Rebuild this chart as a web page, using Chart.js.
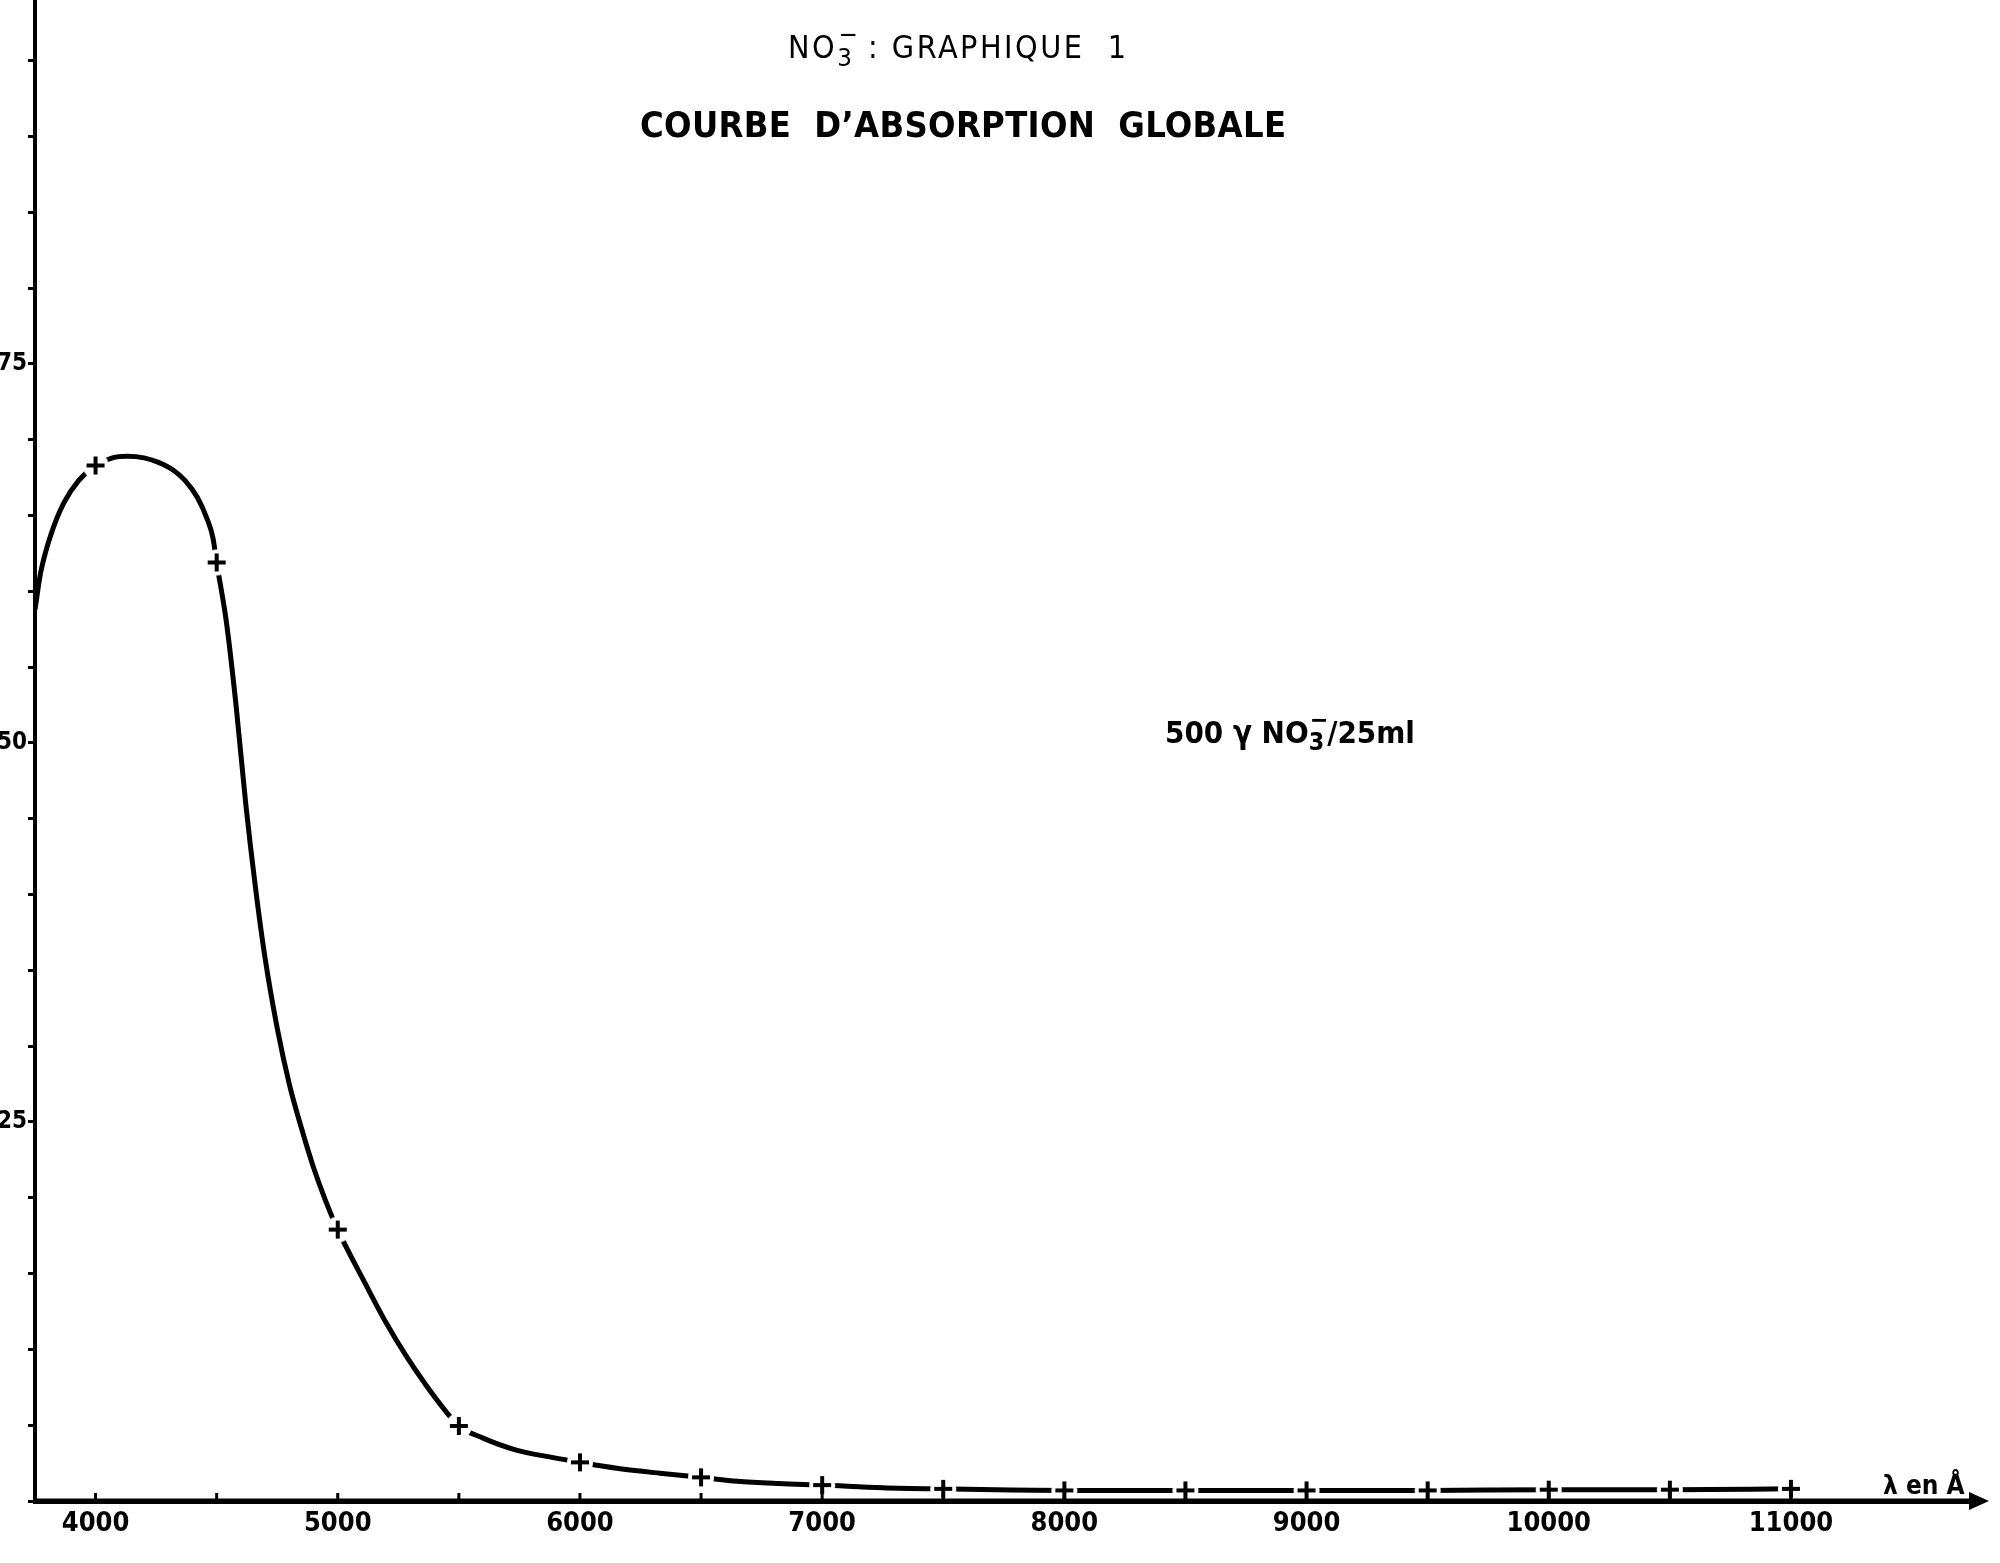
<!DOCTYPE html>
<html>
<head>
<meta charset="utf-8">
<script src="https://cdn.jsdelivr.net/npm/chart.js@4.4.1/dist/chart.umd.min.js"></script>
<style>
  body { margin: 0; background: #fff; }
  #wrap { position: relative; width: 2000px; height: 1563px; }
  .txt { position: absolute; color: #000; white-space: pre; line-height: 1;
         font-family: "DejaVu Sans Condensed", "DejaVu Sans", sans-serif; }
  .ion { position: relative; display: inline-block; width: 0.6em; }
  .ion .s3 { position: relative; top: 0.3em; font-size: 0.8em; }
  .ion .mn { position: absolute; left: 0.05em; top: -0.35em; font-size: 0.8em; }
</style>
</head>
<body>
<div id="wrap">
  <canvas id="myChart"></canvas>
  <div class="txt" style="left:788px;top:31px;font-size:32px;letter-spacing:2.5px;">NO<span class="ion"><span class="s3">3</span><span class="mn">−</span></span> : GRAPHIQUE  1</div>
  <div class="txt" style="left:640px;top:107px;font-size:36px;font-weight:bold;letter-spacing:0.3px;">COURBE  D’ABSORPTION  GLOBALE</div>
  <div class="txt" style="left:1165px;top:717px;font-size:31px;font-weight:bold;">500 γ NO<span class="ion"><span class="s3">3</span><span class="mn">−</span></span>/25ml</div>
  <div class="txt" style="left:1883px;top:1472px;font-size:26px;font-weight:bold;">λ en Å</div>
</div>
<script>
// values (absorption vs wavelength in Angstrom)
var curveLambda = [3750, 3773, 3815, 3868, 3930, 4000, 4070, 4130, 4200, 4260, 4320, 4370, 4420, 4460, 4485, 4500,
                   4540, 4580, 4620, 4660, 4700, 4750, 4800, 4850, 4900, 4950, 5000,
                   5115, 5198, 5281, 5364, 5447, 5500, 5600, 5737, 5890, 6000, 6152, 6330, 6500, 6650, 6820, 7000, 7250, 7500,
                   8000, 8500, 9000, 9500, 10000, 10500, 11000];
var curveAbs = [58.8, 61.2, 63.7, 65.8, 67.3, 68.3, 68.8, 68.9, 68.8, 68.5, 68.0, 67.3, 66.2, 64.8, 63.5, 61.9,
                58.0, 52.5, 46.0, 40.5, 35.8, 31.2, 27.5, 24.6, 22.0, 19.8, 17.9,
                14.3, 11.8, 9.6, 7.65, 5.9, 4.95, 4.15, 3.36, 2.86, 2.55, 2.16, 1.83, 1.56, 1.3, 1.15, 1.05, 0.88, 0.8,
                0.7, 0.7, 0.7, 0.7, 0.75, 0.75, 0.8];

var pointLambda = [4000, 4500, 5000, 5500, 6000, 6500, 7000, 7500, 8000, 8500, 9000, 9500, 10000, 10500, 11000];
var pointAbs = [68.3, 61.9, 17.9, 4.95, 2.55, 1.56, 1.05, 0.8, 0.7, 0.7, 0.7, 0.7, 0.75, 0.75, 0.8];

var xTickValues = [4000, 4500, 5000, 5500, 6000, 6500, 7000, 7500, 8000, 8500, 9000, 9500, 10000, 10500, 11000];
var xTickLabels = [4000, 5000, 6000, 7000, 8000, 9000, 10000, 11000];
var yTickValues = [0, 5, 10, 15, 20, 25, 30, 35, 40, 45, 50, 55, 60, 65, 70, 75, 80, 85, 90, 95];
var yTickLabels = [25, 50, 75];

// cross marker with a white halo, so the curve breaks around each point like on the plate
var cross = document.createElement('canvas');
cross.width = 30; cross.height = 30;
(function() {
  var c = cross.getContext('2d');
  c.fillStyle = '#fff';
  c.beginPath(); c.arc(15, 15, 13, 0, Math.PI * 2); c.fill();
  c.strokeStyle = '#000'; c.lineWidth = 4; c.lineCap = 'butt';
  c.beginPath(); c.moveTo(6, 15); c.lineTo(24, 15); c.moveTo(15, 6); c.lineTo(15, 24); c.stroke();
})();

var axisExtras = {
  id: 'axisExtras',
  afterDraw: function(chart) {
    var ctx = chart.ctx, xs = chart.scales.x, a = chart.chartArea;
    ctx.save();
    ctx.strokeStyle = '#000';
    ctx.fillStyle = '#000';
    // redraw x axis line over the marker halos
    ctx.lineWidth = 5;
    ctx.beginPath(); ctx.moveTo(a.left - 2, a.bottom); ctx.lineTo(a.right, a.bottom); ctx.stroke();
    // small upward tick marks every 500
    ctx.lineWidth = 3;
    xs.ticks.forEach(function(t) {
      var px = xs.getPixelForValue(t.value);
      ctx.beginPath(); ctx.moveTo(px, a.bottom); ctx.lineTo(px, a.bottom - 8); ctx.stroke();
    });
    // arrow head
    ctx.beginPath();
    ctx.moveTo(a.right + 14, a.bottom);
    ctx.lineTo(a.right - 6, a.bottom - 9);
    ctx.lineTo(a.right - 6, a.bottom + 9);
    ctx.closePath(); ctx.fill();
    ctx.restore();
  }
};

var ctx = document.getElementById('myChart').getContext('2d');
var chart = new Chart(ctx, {
  type: 'line',
  data: {
    datasets: [{
      label: 'mesures',
      data: pointLambda.map(function(x, i) { return { x: x, y: pointAbs[i] }; }),
      showLine: false,
      pointStyle: cross,
      pointRadius: 15,
      order: 0
    }, {
      label: 'courbe',
      data: curveLambda.map(function(x, i) { return { x: x, y: curveAbs[i] }; }),
      borderColor: '#000',
      borderWidth: 5,
      pointRadius: 0,
      cubicInterpolationMode: 'monotone',
      fill: false,
      order: 1
    }]
  },
  options: {
    responsive: true,
    maintainAspectRatio: false,
    animation: false,
    layout: { autoPadding: false, padding: { left: 0, top: 0, right: 25, bottom: 0 } },
    plugins: { legend: { display: false }, tooltip: { enabled: false } },
    scales: {
      x: {
        type: 'linear',
        min: 3750,
        max: 11760,
        afterBuildTicks: function(s) {
          s.ticks = xTickValues.map(function(v) { return { value: v }; });
        },
        afterFit: function(s) { s.height = 62; },
        ticks: {
          autoSkip: false,
          maxRotation: 0,
          padding: 7,
          color: '#000',
          font: { family: '"Liberation Sans Narrow", "DejaVu Sans Condensed", sans-serif', size: 27, weight: 'bold' },
          callback: function(v) { return xTickLabels.indexOf(v) >= 0 ? String(v) : ''; }
        },
        grid: { display: true, drawOnChartArea: false, drawTicks: false },
        border: { display: true, color: '#000', width: 5 }
      },
      y: {
        min: 0,
        max: 99,
        afterBuildTicks: function(s) {
          s.ticks = yTickValues.map(function(v) { return { value: v }; });
        },
        afterFit: function(s) { s.width = 35; s.paddingTop = 0; s.paddingBottom = 0; },
        ticks: {
          autoSkip: false,
          padding: 1,
          color: '#000',
          font: { family: '"Liberation Sans Narrow", "DejaVu Sans Condensed", sans-serif', size: 24, weight: 'bold' },
          callback: function(v) { return yTickLabels.indexOf(v) >= 0 ? String(v) : ''; }
        },
        grid: { display: true, drawOnChartArea: false, tickLength: 7, tickWidth: 3, tickColor: '#000' },
        border: { display: true, color: '#000', width: 4 }
      }
    }
  },
  plugins: [axisExtras]
});
</script>
</body>
</html>
